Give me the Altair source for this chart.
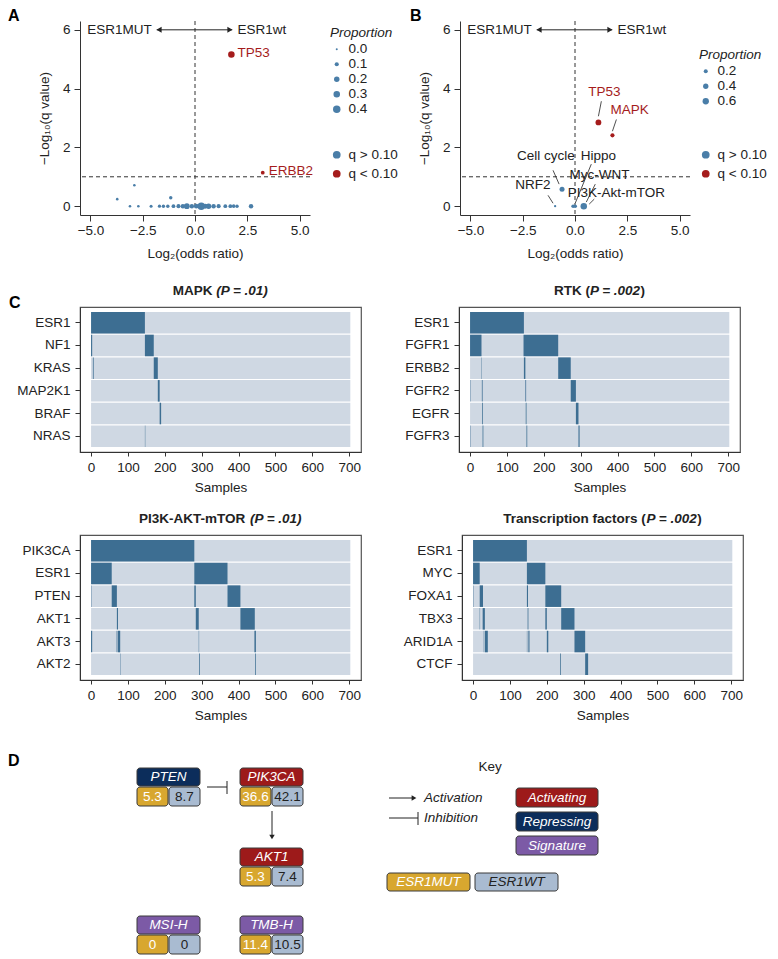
import altair as alt
import pandas as pd

FONT = "Liberation Sans"
FS = 13.5
INK = "#222222"
AXC = "#333333"
BLUE = "#4a7ea8"
RED = "#a51c1c"
TILE_ON = "#3d6e92"
TILE_OFF = "#cfd8e3"
FRAME = "#555555"
N_SAMPLES = 703

# ---------------- Panel A : genes ----------------
a_gene = ["TP53", "ERBB2"] + [""] * 25
a_log2or = [1.74, 3.24, -3.72, -2.90, -1.16, -3.11, -2.71, -2.10, -1.70, -1.51, -1.30,
            -1.03, -0.79, -0.58, -0.39, -0.15, 0.06, 0.30, 0.49, 0.65, 0.89, 1.13,
            1.45, 1.69, 1.85, 2.01, 2.68]
a_mlogq = [5.16, 1.14, 0.24, 0.71, 0.29] + [0.0] * 22
a_prop = [0.30, 0.08, 0.02, 0.02, 0.06, 0.02, 0.02, 0.04, 0.05, 0.06, 0.06, 0.08, 0.10,
          0.12, 0.22, 0.12, 0.14, 0.40, 0.16, 0.20, 0.12, 0.10, 0.08, 0.08, 0.07, 0.06, 0.12]

# ---------------- Panel B : pathways ----------------
b_pathway = ["TP53", "MAPK", "Cell cycle", "NRF2", "Hippo", "Myc-WNT", "PI3K-Akt-mTOR"]
b_log2or = [1.12, 1.79, -0.62, -0.95, -0.09, 0.01, 0.42]
b_mlogq = [2.85, 2.41, 0.58, 0.0, 0.0, 0.0, 0.0]
b_prop = [0.50, 0.22, 0.35, 0.02, 0.15, 0.15, 0.63]
b_label_x = [1.41, 2.61, -1.39, -2.01, 1.12, 1.17, 1.98]
b_label_y = [3.87, 3.26, 1.70, 0.71, 1.70, 1.05, 0.44]
b_lead_x1 = [1.26, 1.98, -1.05, -1.29, 0.78, 0.97, 0.92]
b_lead_y1 = [3.57, 2.95, 1.22, 0.37, 1.43, 0.75, 0.24]
b_lead_x2 = [1.12, 1.79, -0.76, -1.05, 0.01, 0.54, 0.68]
b_lead_y2 = [3.06, 2.55, 0.75, 0.10, 0.10, 0.14, 0.07]

# ---------------- Panel C : oncoprints (altered sample ranges) ----------------
mapk_genes = ["ESR1", "NF1", "KRAS", "MAP2K1", "BRAF", "NRAS"]
mapk_alt_gene = ["ESR1", "NF1", "NF1", "KRAS", "KRAS", "MAP2K1", "BRAF", "NRAS"]
mapk_alt_start = [0, 0, 146, 5, 170, 181, 186, 146]
mapk_alt_end = [146, 3, 170, 7, 181, 186, 190, 147]

rtk_genes = ["ESR1", "FGFR1", "ERBB2", "FGFR2", "EGFR", "FGFR3"]
rtk_alt_gene = ["ESR1", "FGFR1", "FGFR1", "ERBB2", "ERBB2", "ERBB2", "FGFR2", "FGFR2", "FGFR2",
                "FGFR2", "EGFR", "EGFR", "EGFR", "FGFR3", "FGFR3", "FGFR3", "FGFR3"]
rtk_alt_start = [0, 0, 145, 31, 146, 239, 0, 32, 150, 273, 33, 151, 287, 0, 34, 153, 294]
rtk_alt_end = [146, 31, 239, 32, 150, 273, 1, 34, 152, 287, 35, 153, 294, 1, 36, 155, 297]

pi3k_genes = ["PIK3CA", "ESR1", "PTEN", "AKT1", "AKT3", "AKT2"]
pi3k_alt_gene = ["PIK3CA", "ESR1", "ESR1", "PTEN", "PTEN", "PTEN", "PTEN", "AKT1", "AKT1", "AKT1",
                 "AKT3", "AKT3", "AKT3", "AKT3", "AKT3", "AKT2", "AKT2", "AKT2"]
pi3k_alt_start = [0, 0, 280, 0, 56, 280, 370, 70, 284, 405, 0, 69, 72, 292, 443, 79, 293, 445]
pi3k_alt_end = [280, 56, 370, 1, 70, 284, 405, 73, 292, 444, 3, 70, 79, 293, 447, 80, 295, 447]

tf_genes = ["ESR1", "MYC", "FOXA1", "TBX3", "ARID1A", "CTCF"]
tf_alt_gene = ["ESR1", "MYC", "MYC", "FOXA1", "FOXA1", "FOXA1", "FOXA1", "TBX3", "TBX3", "TBX3",
               "TBX3", "TBX3", "ARID1A", "ARID1A", "ARID1A", "ARID1A", "ARID1A", "ARID1A",
               "CTCF", "CTCF"]
tf_alt_start = [0, 0, 146, 0, 18, 146, 196, 18, 26, 148, 196, 239, 29, 32, 146, 150, 200, 275, 236, 304]
tf_alt_end = [146, 18, 196, 1, 27, 149, 239, 19, 32, 150, 200, 275, 30, 40, 147, 153, 204, 304, 238, 312]

# panel titles: (bold part, bold-italic part, bold part)
mapk_title = ["MAPK ", "(P = .01)", ""]
rtk_title = ["RTK (", "P = .002", ")"]
pi3k_title = ["PI3K-AKT-mTOR ", "(P = .01)", ""]
tf_title = ["Transcription factors (", "P = .002", ")"]

# ---------------- Panel D : pathway diagram (diagram units) ----------------
d_node = ["PTEN", "PIK3CA", "AKT1", "MSI-H", "TMB-H"]
d_kind = ["Repressing", "Activating", "Activating", "Signature", "Signature"]
d_mut = ["5.3", "36.6", "5.3", "0", "11.4"]
d_wt = ["8.7", "42.1", "7.4", "0", "10.5"]
d_left = [57, 160, 160, 57, 160]
d_top = [29, 29, 109, 177, 177]
key_kind = ["Activating", "Repressing", "Signature"]
key_top = [49, 73, 97]
grp_name = ["ESR1MUT", "ESR1WT"]
grp_left = [307, 395]

KIND_COL = {"Activating": "#9d1a1a", "Repressing": "#0c2d5b", "Signature": "#7c5aa6"}
MUT_COL = "#d8a72f"
WT_COL = "#a9bbd1"

# approximate bold glyph advance widths (per 1000 em) used to centre mixed-style titles
BOLD_W = {'M': 833, 'A': 722, 'P': 667, 'K': 722, ' ': 278, '(': 333, ')': 333, '=': 584,
          '.': 278, '0': 556, '1': 556, '2': 556, '3': 556, 'R': 722, 'T': 611, 'I': 278,
          '-': 333, 'm': 889, 'O': 778, 'a': 556, 'n': 611, 's': 556, 'c': 556, 'r': 389,
          'i': 278, 'p': 611, 't': 333, 'o': 611, 'f': 333, 'e': 556}


def tw(s):
    return sum(BOLD_W.get(ch, 600) for ch in s) / 1000 * FS


def letter(t, x, y):
    return alt.Chart(pd.DataFrame({"t": [t]})).mark_text(
        align="left", baseline="top", fontWeight="bold", fontSize=16, font=FONT, color="#000"
    ).encode(text="t:N", x=alt.value(x), y=alt.value(y))


def spacer(x, y):
    # invisible mark that only reserves layout room
    return alt.Chart(pd.DataFrame({"t": [0]})).mark_rule(strokeOpacity=0, opacity=0).encode(
        x=alt.value(x), x2=alt.value(x + 1), y=alt.value(y), y2=alt.value(y + 1))


def volcano(df, size_dom, size_rng, size_vals, let, leg_x, leg_prop_y, leg_q_y, lab_df, lead_df, extra):
    xs = alt.Scale(domain=[-5.5, 5.5], nice=False, zero=False)
    ys = alt.Scale(domain=[-0.3, 6.3], nice=False, zero=False)
    X = alt.X("x:Q", scale=xs, axis=alt.Axis(values=[-5, -2.5, 0, 2.5, 5], format=".1f",
                                             title="Log₂(odds ratio)", tickSize=6,
                                             labelPadding=2, titlePadding=10))
    Y = alt.Y("y:Q", scale=ys, axis=alt.Axis(values=[0, 2, 4, 6], title="−Log₁₀(q value)",
                                             tickSize=6, labelPadding=4, titlePadding=11))
    pts = alt.Chart(df).mark_circle(opacity=1).encode(
        x=X, y=Y,
        size=alt.Size("prop:Q", scale=alt.Scale(domain=size_dom, range=size_rng),
                      legend=alt.Legend(title="Proportion", values=size_vals, format=".1f",
                                        orient="none", legendX=leg_x, legendY=leg_prop_y,
                                        titleFontStyle="italic", titleFontWeight="normal",
                                        symbolFillColor=BLUE, symbolStrokeWidth=0,
                                        rowPadding=0, titlePadding=3, labelOffset=5)),
        color=alt.Color("sig:N", scale=alt.Scale(domain=["q > 0.10", "q < 0.10"], range=[BLUE, RED]),
                        legend=alt.Legend(title=None, orient="none", legendX=leg_x, legendY=leg_q_y,
                                          symbolSize=60, symbolStrokeWidth=0, rowPadding=4,
                                          labelOffset=5)),
    )
    vline = alt.Chart(pd.DataFrame({"x": [0.0]})).mark_rule(strokeDash=[4, 3], color=AXC, strokeWidth=1).encode(
        x=alt.X("x:Q", scale=xs))
    hline = alt.Chart(pd.DataFrame({"y": [1.0]})).mark_rule(strokeDash=[4, 3], color=AXC, strokeWidth=1).encode(
        y=alt.Y("y:Q", scale=ys))
    arrow = alt.Chart(pd.DataFrame({"x": [-1.83], "x2": [1.78], "y": [6.0]})).mark_rule(color=INK).encode(
        x=alt.X("x:Q", scale=xs), x2="x2:Q", y=alt.Y("y:Q", scale=ys))
    head_l = alt.Chart(pd.DataFrame({"x": [-1.72], "y": [6.0]})).mark_point(
        filled=True, size=35, color=INK, opacity=1, shape="triangle-left").encode(
        x=alt.X("x:Q", scale=xs), y=alt.Y("y:Q", scale=ys))
    head_r = alt.Chart(pd.DataFrame({"x": [1.67], "y": [6.0]})).mark_point(
        filled=True, size=35, color=INK, opacity=1, shape="triangle-right").encode(
        x=alt.X("x:Q", scale=xs), y=alt.Y("y:Q", scale=ys))
    side_l = alt.Chart(pd.DataFrame({"x": [-2.07], "y": [6.0], "t": ["ESR1MUT"]})).mark_text(
        align="right", fontSize=FS, color=INK).encode(
        x=alt.X("x:Q", scale=xs), y=alt.Y("y:Q", scale=ys), text="t:N")
    side_r = alt.Chart(pd.DataFrame({"x": [2.03], "y": [6.0], "t": ["ESR1wt"]})).mark_text(
        align="left", fontSize=FS, color=INK).encode(
        x=alt.X("x:Q", scale=xs), y=alt.Y("y:Q", scale=ys), text="t:N")
    layers = [vline, hline, arrow, head_l, head_r, side_l, side_r]
    if lead_df is not None:
        layers.append(alt.Chart(lead_df).mark_rule(color=INK, strokeWidth=0.8).encode(
            x=alt.X("x1:Q", scale=xs), x2="x2:Q", y=alt.Y("y1:Q", scale=ys), y2="y2:Q"))
    layers.append(pts)
    if lab_df is not None:
        layers.append(alt.Chart(lab_df).transform_filter("datum.sig").mark_text(
            fontSize=FS, align="center", baseline="middle", color=RED).encode(
            x=alt.X("lx:Q", scale=xs), y=alt.Y("ly:Q", scale=ys), text="t:N"))
        layers.append(alt.Chart(lab_df).transform_filter("!datum.sig").mark_text(
            fontSize=FS, align="center", baseline="middle", color=INK).encode(
            x=alt.X("lx:Q", scale=xs), y=alt.Y("ly:Q", scale=ys), text="t:N"))
    else:
        layers.append(alt.Chart(df).transform_filter("datum.gene != ''").mark_text(
            fontSize=FS, align="left", dx=6, dy=-2, color=RED).encode(
            x=alt.X("x:Q", scale=xs), y=alt.Y("y:Q", scale=ys), text="gene:N"))
    layers.append(let)
    if extra is not None:
        layers.append(extra)
    return alt.layer(*layers).properties(width=230, height=194)


dfA = pd.DataFrame({"gene": a_gene, "x": a_log2or, "y": a_mlogq, "prop": a_prop})
dfA["sig"] = ["q < 0.10" if v > 1 else "q > 0.10" for v in dfA["y"]]
dfB = pd.DataFrame({"gene": b_pathway, "x": b_log2or, "y": b_mlogq, "prop": b_prop})
dfB["sig"] = ["q < 0.10" if v > 1 else "q > 0.10" for v in dfB["y"]]
labB = pd.DataFrame({"t": b_pathway, "lx": b_label_x, "ly": b_label_y,
                     "sig": [bool(v > 1) for v in b_mlogq]})
leadB = pd.DataFrame({"x1": b_lead_x1, "y1": b_lead_y1, "x2": b_lead_x2, "y2": b_lead_y2})

panelA = volcano(dfA, [0, 0.4], [4, 56], [0, 0.1, 0.2, 0.3, 0.4], letter("A", -72, -13),
                 250, 5, 127, None, None, spacer(0, 245))
panelB = volcano(dfB, [0, 0.6], [4, 40], [0.2, 0.4, 0.6], letter("B", -50, -13),
                 239, 27, 127, labB, leadB, None)

PW, PH = 281, 145


def title_layers(parts):
    w = [tw(p) for p in parts]
    x0 = PW / 2 - sum(w) / 2
    out = []
    xs = [x0, x0 + w[0], x0 + w[0] + w[1]]
    for p, x, st in zip(parts, xs, ["normal", "italic", "normal"]):
        if p:
            out.append(alt.Chart(pd.DataFrame({"t": [p]})).mark_text(
                align="left", baseline="middle", fontWeight="bold", fontStyle=st, fontSize=FS,
                color=INK).encode(text="t:N", x=alt.value(x), y=alt.value(-16)))
    return out


def oncoprint(genes, g, s, e, title, ext, let=None):
    xs = alt.Scale(domain=[-30, 732], nice=False, zero=False)
    ys = alt.Scale(domain=genes, paddingInner=0.05, paddingOuter=0.22)
    bg = pd.DataFrame({"gene": genes, "s": [0] * len(genes), "e": [N_SAMPLES] * len(genes)})
    fg = pd.DataFrame({"gene": g, "s": s, "e": e})
    X = alt.X("s:Q", scale=xs, axis=alt.Axis(values=list(range(0, 701, 100)), title="Samples",
                                             tickSize=4, labelPadding=4, titlePadding=7))
    Y = alt.Y("gene:N", scale=ys, axis=alt.Axis(title=None, tickSize=5, labelPadding=5, minExtent=ext))
    l1 = alt.Chart(bg).mark_rect(color=TILE_OFF).encode(x=X, x2="e:Q", y=Y)
    l2 = alt.Chart(fg).mark_rect(color=TILE_ON).encode(x=alt.X("s:Q", scale=xs), x2="e:Q",
                                                       y=alt.Y("gene:N", scale=ys))
    layers = [l1, l2] + title_layers(title)
    if let is not None:
        layers.append(let)
    return alt.layer(*layers).properties(
        width=PW, height=PH,
        view=alt.ViewBackground(stroke=FRAME, strokeWidth=1.2),
    )


c1 = oncoprint(mapk_genes, mapk_alt_gene, mapk_alt_start, mapk_alt_end, mapk_title, 71,
               letter("C", -71, -12))
c2 = oncoprint(rtk_genes, rtk_alt_gene, rtk_alt_start, rtk_alt_end, rtk_title, 56)
c3 = oncoprint(pi3k_genes, pi3k_alt_gene, pi3k_alt_start, pi3k_alt_end, pi3k_title, 71)
c4 = oncoprint(tf_genes, tf_alt_gene, tf_alt_start, tf_alt_end, tf_title, 56)

# ---------------- Panel D ----------------
BW, HH, VH = 63, 18, 19
rects, texts = [], []
for n, k, m, w, x0, y0 in zip(d_node, d_kind, d_mut, d_wt, d_left, d_top):
    rects.append(dict(x=x0, x2=x0 + BW, y=y0, y2=y0 + HH, f=KIND_COL[k]))
    rects.append(dict(x=x0, x2=x0 + 31, y=y0 + HH + 1, y2=y0 + HH + 1 + VH, f=MUT_COL))
    rects.append(dict(x=x0 + 32, x2=x0 + BW, y=y0 + HH + 1, y2=y0 + HH + 1 + VH, f=WT_COL))
    texts.append(dict(x=x0 + BW / 2, y=y0 + HH / 2, t=n, c="white", it="italic"))
    texts.append(dict(x=x0 + 15.5, y=y0 + HH + 1 + VH / 2, t=m, c="white", it="normal"))
    texts.append(dict(x=x0 + 47.5, y=y0 + HH + 1 + VH / 2, t=w, c=INK, it="normal"))
for k, y0 in zip(key_kind, key_top):
    rects.append(dict(x=436, x2=518, y=y0, y2=y0 + 19, f=KIND_COL[k]))
    texts.append(dict(x=477, y=y0 + 9.5, t=k, c="white", it="italic"))
for gname, x0, fc, tc in zip(grp_name, grp_left, [MUT_COL, WT_COL], ["white", INK]):
    rects.append(dict(x=x0, x2=x0 + 83, y=134, y2=152, f=fc))
    texts.append(dict(x=x0 + 41.5, y=143, t=gname, c=tc, it="italic"))
rect_df = pd.DataFrame(rects)
text_df = pd.DataFrame(texts)
edge_df = pd.DataFrame({"x": [127, 147, 192, 309, 309, 338],
                        "x2": [147, 147, 192, 334, 338, 338],
                        "y": [48, 42, 72, 59, 79, 73],
                        "y2": [48, 55, 97, 59, 79, 86]})

dx = alt.Scale(domain=[0, 520], nice=False, zero=False)
dy = alt.Scale(domain=[0, 217], nice=False, zero=False, reverse=True)
DXa = alt.X("x:Q", scale=dx, axis=None)
DYa = alt.Y("y:Q", scale=dy, axis=None)


def dtext(df, filt, color, style, align="center", size=FS, weight="normal"):
    return alt.Chart(df).transform_filter(filt).mark_text(
        fontSize=size, baseline="middle", align=align, color=color, fontStyle=style,
        fontWeight=weight).encode(x=DXa, y=DYa, text="t:N")


d_rects = alt.Chart(rect_df).mark_rect(cornerRadius=3, stroke="#3a3a3a", strokeWidth=1).encode(
    x=DXa, x2="x2:Q", y=DYa, y2="y2:Q", fill=alt.Fill("f:N", scale=None))
d_edges = alt.Chart(edge_df).mark_rule(color=INK, strokeWidth=1).encode(x=DXa, x2="x2:Q", y=DYa, y2="y2:Q")
d_head1 = alt.Chart(pd.DataFrame({"x": [192], "y": [98]})).mark_point(
    filled=True, size=30, color=INK, opacity=1, shape="triangle-down").encode(x=DXa, y=DYa)
d_head2 = alt.Chart(pd.DataFrame({"x": [334], "y": [59]})).mark_point(
    filled=True, size=30, color=INK, opacity=1, shape="triangle-right").encode(x=DXa, y=DYa)
lab_df = pd.DataFrame({"x": [410, 344, 344, -72], "y": [28, 59, 79, 22],
                       "t": ["Key", "Activation", "Inhibition", "D"],
                       "k": ["key", "it", "it", "letter"]})
layersD = [
    d_edges, d_head1, d_head2, d_rects,
    dtext(text_df, "datum.it == 'italic' && datum.c == 'white'", "white", "italic"),
    dtext(text_df, "datum.it == 'italic' && datum.c != 'white'", INK, "italic"),
    dtext(text_df, "datum.it == 'normal' && datum.c == 'white'", "white", "normal"),
    dtext(text_df, "datum.it == 'normal' && datum.c != 'white'", INK, "normal"),
    dtext(lab_df, "datum.k == 'key'", INK, "normal"),
    dtext(lab_df, "datum.k == 'it'", INK, "italic", align="left"),
    dtext(lab_df, "datum.k == 'letter'", "#000", "normal", align="left", size=16, weight="bold"),
]
panelD = alt.layer(*layersD).properties(width=520, height=217)

row1 = alt.hconcat(panelA, panelB, spacing=12).resolve_scale(size="independent", color="independent")
row2 = alt.hconcat(c1, c2, spacing=40)
row3 = alt.hconcat(c3, c4, spacing=40)

chart = alt.vconcat(row1, row2, row3, panelD, spacing=16).properties(
    padding=0
).configure(
    font=FONT
).configure_view(stroke=None).configure_axis(
    labelFont=FONT, titleFont=FONT, labelFontSize=FS, titleFontSize=FS, labelColor=INK,
    titleColor=INK, domainColor=AXC, tickColor=AXC, grid=False, titleFontWeight="normal"
).configure_legend(
    labelFont=FONT, titleFont=FONT, labelFontSize=FS, titleFontSize=FS, labelColor=INK,
    titleColor=INK, padding=0
).configure_text(font=FONT)

chart.save("out.html", embed_options={"renderer": "svg", "actions": False})
